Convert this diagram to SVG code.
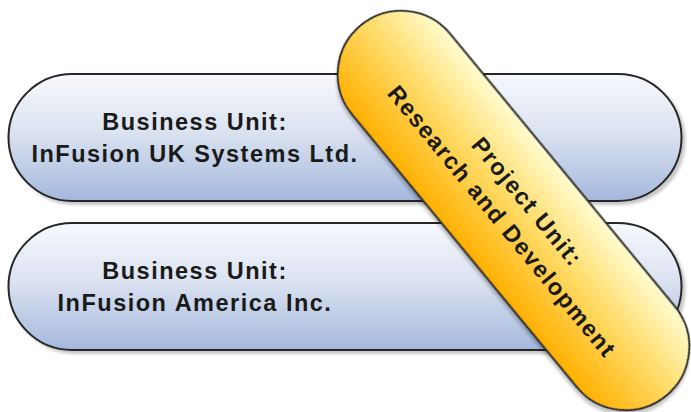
<svg xmlns="http://www.w3.org/2000/svg" width="691" height="412" viewBox="0 0 691 412">
  <style>
    .pill-blue { fill: url(#blueGrad); stroke: #262626; stroke-width: 2; filter: url(#shadow); }
    .pill-yellow { fill: url(#yellowGrad); stroke: #262626; stroke-width: 2; filter: url(#shadow); }
    .label { font-family: "Liberation Sans", Arial, sans-serif; font-weight: bold; font-size: 23.5px; letter-spacing: 1.5px; fill: #1a1a1a; text-anchor: middle; }
  </style>
  <defs>
    <linearGradient id="blueGrad" x1="0" y1="0" x2="0" y2="1">
      <stop offset="0" stop-color="#F6F8FC"/>
      <stop offset="0.45" stop-color="#DCE3F1"/>
      <stop offset="1" stop-color="#A4B8DC"/>
    </linearGradient>
    <linearGradient id="yellowGrad" x1="0" y1="0" x2="0" y2="1">
      <stop offset="0" stop-color="#FFFCD0"/>
      <stop offset="0.45" stop-color="#FFDC6A"/>
      <stop offset="1" stop-color="#FFB000"/>
    </linearGradient>
    <filter id="shadow" x="-10%" y="-20%" width="120%" height="140%">
      <feDropShadow dx="3" dy="3" stdDeviation="1.5" flood-color="#000000" flood-opacity="0.22"/>
    </filter>
  </defs>
  <rect width="691" height="412" fill="#FFFFFF"/>
  <g id="connectors"/>
  <g id="bu-uk">
    <rect class="pill-blue" x="8.5" y="74" width="673" height="127" rx="63.5" ry="63.5"/>
    <text class="label" x="195" y="129.5">Business Unit:</text>
    <text class="label" x="195" y="161.5">InFusion UK Systems Ltd.</text>
  </g>
  <g id="bu-america">
    <rect class="pill-blue" x="8.5" y="223" width="673" height="127" rx="63.5" ry="63.5"/>
    <text class="label" x="195" y="278.5">Business Unit:</text>
    <text class="label" x="195" y="310.5">InFusion America Inc.</text>
  </g>
  <g id="pu-rd" transform="translate(513.5,210.5) rotate(50.5)">
    <rect class="pill-yellow" x="-240" y="-63.5" width="480" height="127" rx="63.5" ry="63.5"/>
    <text class="label" x="2" y="-8">Project Unit:</text>
    <text class="label" x="1" y="24">Research and Development</text>
  </g>
</svg>
